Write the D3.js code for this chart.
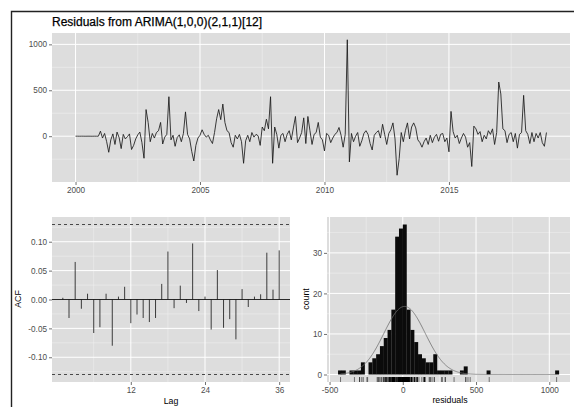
<!DOCTYPE html>
<html>
<head>
<meta charset="utf-8">
<script src="https://cdn.jsdelivr.net/npm/d3@7"></script>
<style>
  html, body { margin: 0; padding: 0; background: #fff; }
  svg { display: block; font-family: "Liberation Sans", Arial, sans-serif; }
</style>
</head>
<body>
<svg id="chart" width="574" height="407"></svg>
<script>
// ---- data ----------------------------------------------------------------
const chartTitle = "Residuals from ARIMA(1,0,0)(2,1,1)[12]";
const startYear = 2000;            // monthly series, first observation Jan 2000
const residuals = [
  0.4, 0.2, -0.1, 0.3, 0.1, -0.2, 0.2, 0.1, -0.3, 0.2, 0.1, -0.1,
  55, -20, 30, -60, -175, -40, 25, -90, 45, -15, -135, 20,
  -30, -5, 25, -145, -100, -30, 15, 45, -70, -240, 290, 150,
  -60, 30, -20, 40, 60, 150, -85, -10, 20, 430, -40, 10,
  -110, -15, 15, -60, 30, 265, 20, -30, -165, -270, -100, -20,
  10, 70, 20, -10, 10, -40, -80, 40, 190, 290, 180, 350,
  150, 60, 40, -70, -120, 10, -30, 20, -60, -295, -50, 10,
  -60, 40, -10, 20, 5, -100, 100, 60, 185, 80, 430, -295,
  100, 20, -130, 10, 30, -60, 20, 60, -40, 90, 215, -70,
  -20, 40, 200, -80, 215, 60, -90, 20, 40, 150, -10, -40,
  -160, 30, 10, -70, -20, 20, 40, 95, 10, -120, 20, 1050,
  -280, 30, -60, 0, 40, -110, -50, 30, 60, 20, -80, -150,
  10, 40, 60, -20, 130, 20, -90, 30, 70, 145, -30, -425,
  -245, 40, -60, 60, 145, -30, 100, 145, 90, -40, -70, -120,
  -60, -20, -90, 10, -70, -10, 20, -55, 20, 30, -60, -20,
  -170, 270, 50, -20, 10, -80, -20, 30, -10, -120, -70, -330,
  110, 80, 20, 50, -60, 10, -30, 60, 20, 80, -90, 40,
  590, 460, 80, 60, -70, 20, 40, -60, 30, -130, 20, 40,
  445, 60, 20, -80, 40, -60, 30, -20, 40, -70, -110, 40
];
const yearTicks = [2000, 2005, 2010, 2015];
const residTicks = [0, 500, 1000];

const acfLags = d3.range(1, 37);
const acfValues = [
  0.003, -0.032, 0.065, -0.016, 0.010, -0.058, -0.048, 0.010, -0.080, 0.005,
  0.022, -0.041, -0.026, -0.032, -0.039, -0.032, 0.027, 0.083, -0.015, 0.024,
  -0.006, 0.097, -0.020, 0.005, -0.052, 0.051, -0.049, -0.034, -0.069, 0.018,
  -0.013, 0.005, 0.009, 0.081, 0.017, 0.085
];
const lagTicks = [12, 24, 36];
const acfTicks = [-0.10, -0.05, 0.00, 0.05, 0.10];

const histStart = -442;
const binWidth = 26;
const histCounts = [
  1, 1, 0, 1, 1, 1, 3, 0, 3, 4,
  5, 7, 9, 11, 16, 34, 36, 37, 16, 11,
  8, 5, 4, 3, 3, 5, 1, 1, 1, 1,
  0, 0, 1, 2, 0, 0, 0, 0, 0, 1,
  0, 0, 0, 0, 0, 0, 0, 0, 0, 0,
  0, 0, 0, 0, 0, 0, 0, 1
];
const histTicks = [-500, 0, 500, 1000];
const countTicks = [0, 10, 20, 30];

// ---- helpers --------------------------------------------------------------
const svg = d3.select("#chart");
const PANEL = "#dddddd", TICK = "#333", LABEL = "#4d4d4d";
const TICK_FONT = 8.2, TITLE_FONT = 8.8;

function expand(lo, hi, f = 0.05) { const d = (hi - lo) * f; return [lo - d, hi + d]; }
function minorOf(major, domain) {
  const step = major[1] - major[0];
  const out = [];
  for (let v = major[0] - step / 2; v <= domain[1]; v += step) if (v >= domain[0]) out.push(v);
  return out;
}

function drawPanel(g, x, y, xMajor, yMajor) {
  const [x0, x1] = x.range(), [y1, y0] = y.range();
  g.append("rect").attr("x", x0).attr("y", y0).attr("width", x1 - x0).attr("height", y1 - y0).attr("fill", PANEL);
  const xMin = minorOf(xMajor, x.domain()), yMin = minorOf(yMajor, y.domain());
  g.selectAll(null).data(yMin).join("line").attr("x1", x0).attr("x2", x1)
    .attr("y1", d => y(d)).attr("y2", d => y(d)).attr("stroke", "#f3f3f3").attr("stroke-width", 0.5);
  g.selectAll(null).data(xMin).join("line").attr("y1", y0).attr("y2", y1)
    .attr("x1", d => x(d)).attr("x2", d => x(d)).attr("stroke", "#f3f3f3").attr("stroke-width", 0.5);
  g.selectAll(null).data(yMajor).join("line").attr("x1", x0).attr("x2", x1)
    .attr("y1", d => y(d)).attr("y2", d => y(d)).attr("stroke", "#fff").attr("stroke-width", 1);
  g.selectAll(null).data(xMajor).join("line").attr("y1", y0).attr("y2", y1)
    .attr("x1", d => x(d)).attr("x2", d => x(d)).attr("stroke", "#fff").attr("stroke-width", 1);
}

function styleAxis(a) {
  a.select(".domain").remove();
  a.selectAll(".tick line").attr("stroke", TICK).attr("stroke-width", 0.7);
  a.selectAll(".tick text").attr("fill", LABEL).attr("font-size", TICK_FONT)
    .attr("font-family", "Liberation Sans, Arial, sans-serif");
}
function axes(g, x, y, xTicks, yTicks, xFmt, yFmt) {
  g.append("g").attr("transform", `translate(0,${y.range()[0]})`)
    .call(d3.axisBottom(x).tickValues(xTicks).tickFormat(xFmt).tickSize(3).tickPadding(2)).call(styleAxis);
  g.append("g").attr("transform", `translate(${x.range()[0]},0)`)
    .call(d3.axisLeft(y).tickValues(yTicks).tickFormat(yFmt).tickSize(3).tickPadding(2)).call(styleAxis);
}

// ---- outer frame ----------------------------------------------------------
svg.append("path").attr("d", "M11.5,407V11.5H574").attr("fill", "none").attr("stroke", "#222").attr("stroke-width", 1.4);

// ---- top: residual time series -------------------------------------------
const times = residuals.map((_, i) => startYear + i / 12);
const xT = d3.scaleLinear().domain(expand(d3.min(times), d3.max(times))).range([52, 570]);
const yT = d3.scaleLinear().domain(expand(d3.min(residuals), d3.max(residuals))).range([182, 33]);
const gT = svg.append("g");
drawPanel(gT, xT, yT, yearTicks, residTicks);
gT.append("path").datum(residuals)
  .attr("d", d3.line().x((d, i) => xT(times[i])).y(d => yT(d)))
  .attr("fill", "none").attr("stroke", "#1a1a1a").attr("stroke-width", 0.85).attr("stroke-linejoin", "round");
axes(gT, xT, yT, yearTicks, residTicks, d3.format("d"), d => String(d));
svg.append("text").attr("x", 52).attr("y", 26).attr("font-size", 12).attr("fill", "#000")
  .attr("stroke", "#000").attr("stroke-width", 0.25).text(chartTitle);

// ---- bottom left: ACF ----------------------------------------------------
const ci = 1.96 / Math.sqrt(residuals.length);
const xA = d3.scaleLinear().domain(expand(1, 36)).range([52, 290]);
const yA = d3.scaleLinear().domain(expand(-ci, ci)).range([382, 217]);
const gA = svg.append("g");
drawPanel(gA, xA, yA, lagTicks, acfTicks);
gA.selectAll(null).data([ci, -ci]).join("line")
  .attr("x1", 52).attr("x2", 290).attr("y1", d => yA(d)).attr("y2", d => yA(d))
  .attr("stroke", "#222").attr("stroke-width", 0.8).attr("stroke-dasharray", "3,3");
gA.append("line").attr("x1", 52).attr("x2", 290).attr("y1", yA(0)).attr("y2", yA(0))
  .attr("stroke", "#111").attr("stroke-width", 0.9);
gA.selectAll(null).data(acfLags).join("line")
  .attr("x1", d => xA(d)).attr("x2", d => xA(d))
  .attr("y1", yA(0)).attr("y2", (d, i) => yA(acfValues[i]))
  .attr("stroke", "#111").attr("stroke-width", 0.8);
axes(gA, xA, yA, lagTicks, acfTicks, d3.format("d"), d => d.toFixed(2));
svg.append("text").attr("x", 171).attr("y", 404).attr("text-anchor", "middle").attr("font-size", TITLE_FONT).text("Lag");
svg.append("text").attr("transform", "translate(21,299) rotate(-90)").attr("text-anchor", "middle").attr("font-size", TITLE_FONT).text("ACF");

// ---- bottom right: histogram ---------------------------------------------
const histEnd = histStart + histCounts.length * binWidth;
const xH = d3.scaleLinear().domain(expand(histStart, histEnd)).range([327, 570]);
const yH = d3.scaleLinear().domain(expand(0, d3.max(histCounts))).range([382, 217]);
const gH = svg.append("g");
drawPanel(gH, xH, yH, histTicks, countTicks);
gH.selectAll(null).data(histCounts).join("rect")
  .attr("x", (d, i) => xH(histStart + i * binWidth))
  .attr("width", xH(binWidth) - xH(0) + 0.15)
  .attr("y", d => yH(d)).attr("height", d => yH(0) - yH(d))
  .attr("fill", "#0b0b0b");
// normal density scaled to counts
const mu = d3.mean(residuals), sd = d3.deviation(residuals), n = residuals.length;
const xs = d3.range(0, 401).map(k => d3.min(residuals) + k * (d3.max(residuals) - d3.min(residuals)) / 400);
gH.append("path").datum(xs)
  .attr("d", d3.line().x(d => xH(d)).y(d => yH(n * binWidth * Math.exp(-0.5 * ((d - mu) / sd) ** 2) / (sd * Math.sqrt(2 * Math.PI)))))
  .attr("fill", "none").attr("stroke", "#707070").attr("stroke-width", 0.8);
// rug
const rugLen = 0.03 * (yH.range()[0] - yH.range()[1]);
gH.selectAll(null).data(residuals).join("line")
  .attr("x1", d => xH(d)).attr("x2", d => xH(d))
  .attr("y1", yH.range()[0]).attr("y2", yH.range()[0] - rugLen)
  .attr("stroke", "#000").attr("stroke-width", 0.5);
axes(gH, xH, yH, histTicks, countTicks, d => String(d), d3.format("d"));
svg.append("text").attr("x", 450).attr("y", 403).attr("text-anchor", "middle").attr("font-size", TITLE_FONT).text("residuals");
svg.append("text").attr("transform", "translate(309,299) rotate(-90)").attr("text-anchor", "middle").attr("font-size", TITLE_FONT).text("count");
</script>
</body>
</html>
